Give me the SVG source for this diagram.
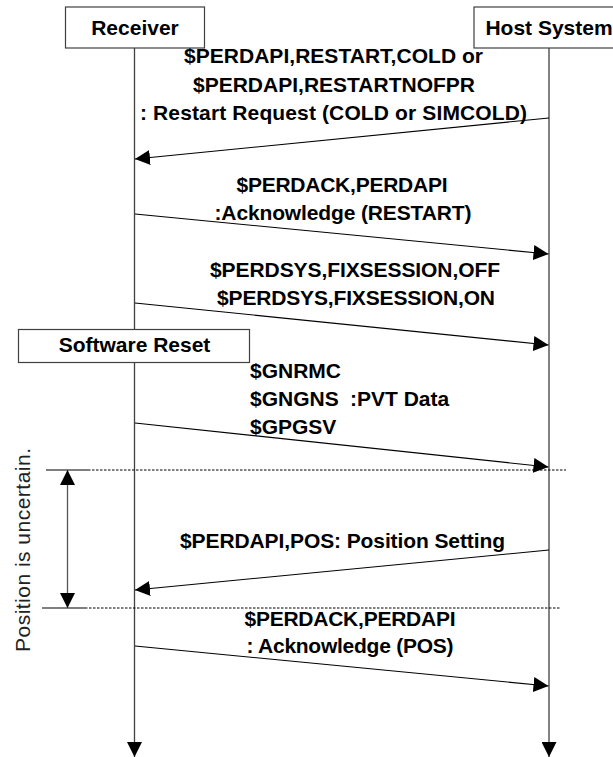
<svg xmlns="http://www.w3.org/2000/svg" width="613" height="757" viewBox="0 0 613 757">
  <style>
    .box { fill: #ffffff; stroke: #404040; stroke-width: 1.2; }
    .life { stroke: #404040; stroke-width: 1.3; fill: none; }
    .msg { stroke: #000000; stroke-width: 1.1; fill: none; }
    .dash { stroke: #000000; stroke-width: 1; stroke-dasharray: 2.5 1.5; fill: none; }
    .tick { stroke: #555555; stroke-width: 1.6; fill: none; }
    .brk { stroke: #555555; stroke-width: 1.3; fill: none; }
    .t { font-family: "Liberation Sans", Arial, sans-serif; font-weight: bold; font-size: 21px; fill: #000000; }
    .c { text-anchor: middle; }
    .rot { font-family: "Liberation Sans", Arial, sans-serif; font-size: 21px; fill: #222222; text-anchor: middle; }
  </style>
  <defs>
    <marker id="ah" markerUnits="userSpaceOnUse" markerWidth="15" markerHeight="15" refX="15" refY="7.5" orient="auto">
      <path d="M0,0 L15,7.5 L0,15 Z" fill="#000000"/>
    </marker>
    <marker id="ahs" markerUnits="userSpaceOnUse" markerWidth="15" markerHeight="15" refX="0" refY="7.5" orient="auto">
      <path d="M15,0 L0,7.5 L15,15 Z" fill="#000000"/>
    </marker>
  </defs>

  <g id="connectors">
    <line class="life" x1="134.5" y1="48" x2="134.5" y2="757" marker-end="url(#ah)"/>
    <line class="life" x1="549" y1="48" x2="549" y2="757" marker-end="url(#ah)"/>
    <line class="msg" x1="549" y1="118" x2="135" y2="159" marker-end="url(#ah)"/>
    <line class="msg" x1="135" y1="214" x2="548.5" y2="254" marker-end="url(#ah)"/>
    <line class="msg" x1="135" y1="303" x2="548.5" y2="345" marker-end="url(#ah)"/>
    <line class="msg" x1="135" y1="423" x2="548.5" y2="467" marker-end="url(#ah)"/>
    <line class="msg" x1="549" y1="550" x2="135" y2="590" marker-end="url(#ah)"/>
    <line class="msg" x1="135" y1="646" x2="548.5" y2="686" marker-end="url(#ah)"/>
    <line class="tick" x1="46" y1="470" x2="88" y2="470"/>
    <line class="dash" x1="88" y1="470" x2="566" y2="470"/>
    <line class="tick" x1="42" y1="608" x2="85" y2="608"/>
    <line class="dash" x1="85" y1="608" x2="561" y2="608"/>
    <line class="brk" x1="67.5" y1="470" x2="67.5" y2="608" marker-start="url(#ahs)" marker-end="url(#ah)"/>
  </g>

  <g id="receiver">
    <rect class="box" x="65.5" y="7" width="139" height="41"/>
    <text class="t c" x="135" y="35">Receiver</text>
  </g>

  <g id="host-system">
    <rect class="box" x="474" y="7" width="150" height="41"/>
    <text class="t c" x="549" y="35">Host System</text>
  </g>

  <g id="software-reset">
    <rect class="box" x="18.5" y="329.5" width="231" height="33"/>
    <text class="t c" x="134.5" y="352">Software Reset</text>
  </g>

  <g id="labels">
    <text class="t c" x="333.5" y="63" textLength="299">$PERDAPI,RESTART,COLD or</text>
    <text class="t c" x="334" y="92" textLength="282">$PERDAPI,RESTARTNOFPR</text>
    <text class="t c" x="333.5" y="120" textLength="387">: Restart Request (COLD or SIMCOLD)</text>

    <text class="t c" x="342" y="192" textLength="211">$PERDACK,PERDAPI</text>
    <text class="t c" x="343" y="220" textLength="257">:Acknowledge (RESTART)</text>

    <text class="t c" x="355" y="277" textLength="290">$PERDSYS,FIXSESSION,OFF</text>
    <text class="t c" x="356" y="305" textLength="278">$PERDSYS,FIXSESSION,ON</text>

    <text class="t" x="250" y="378">$GNRMC</text>
    <text class="t" x="250" y="406">$GNGNS</text>
    <text class="t" x="250" y="434">$GPGSV</text>
    <text class="t" x="350" y="406">:PVT Data</text>

    <text class="t c" x="342.5" y="548" textLength="325">$PERDAPI,POS: Position Setting</text>

    <text class="t c" x="350" y="626" textLength="211">$PERDACK,PERDAPI</text>
    <text class="t c" x="350" y="653" textLength="207">: Acknowledge (POS)</text>

    <text class="rot" transform="translate(30,550) rotate(-90)" textLength="204">Position is uncertain.</text>
  </g>
</svg>
